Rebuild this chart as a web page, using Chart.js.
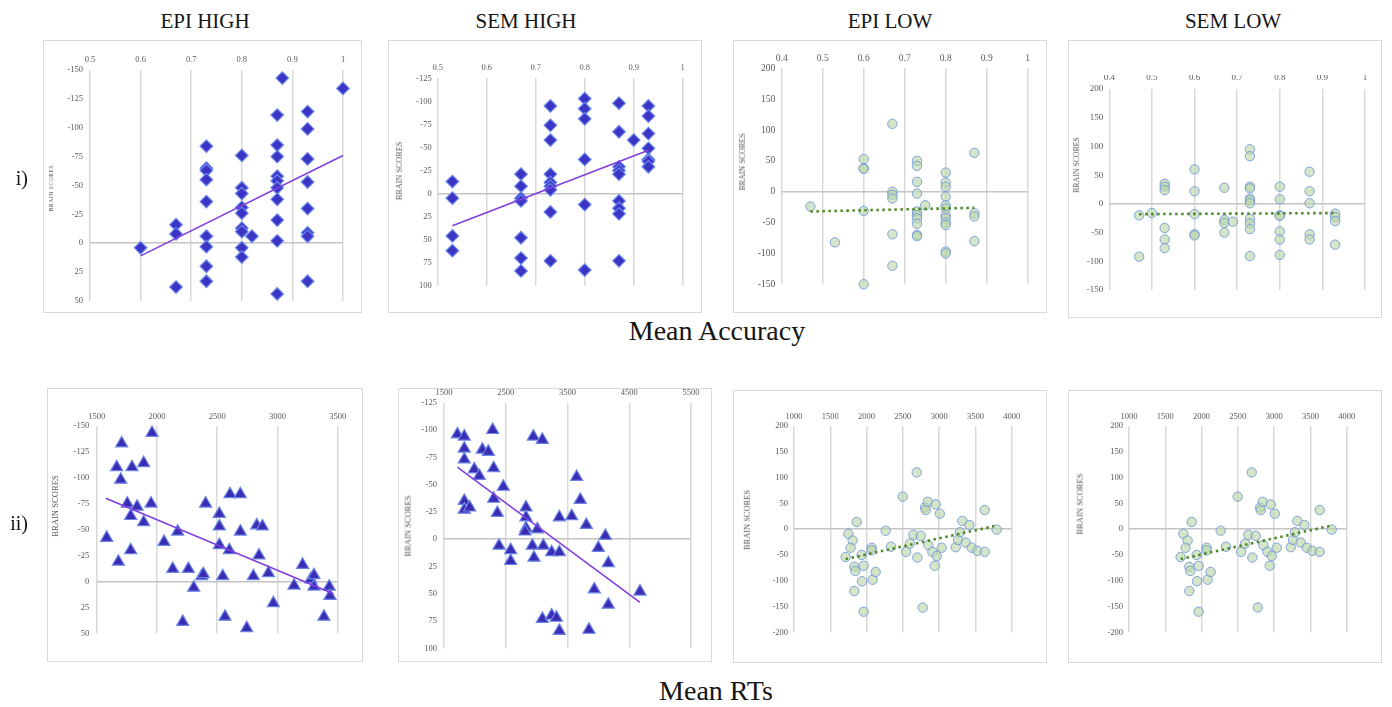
<!DOCTYPE html>
<html>
<head>
<meta charset="utf-8">
<script src="https://cdn.jsdelivr.net/npm/chart.js@4.4.1/dist/chart.umd.min.js"></script>
<style>
  body { margin: 0; background: #fff; width: 1392px; height: 707px; overflow: hidden; position: relative;
         font-family: 'Liberation Serif', 'Times New Roman', serif; }
  .box { position: absolute; border: 1.5px solid #d9d9d9; box-sizing: border-box; }
  canvas { position: absolute; }
  .txt { position: absolute; white-space: nowrap; line-height: 1; color: #151515; }
  .ytitle { position: absolute; white-space: nowrap; line-height: 1; color: #595959;
            transform: translate(-50%, -50%) rotate(-90deg); }
</style>
</head>
<body>
<script>
// ---- data ----
// row i) : mean accuracy vs brain scores
const accEpiHighX = [0.6, 0.67, 0.67, 0.67,
  0.73, 0.73, 0.73, 0.73, 0.73, 0.73, 0.73, 0.73, 0.73,
  0.8, 0.8, 0.8, 0.8, 0.8, 0.8, 0.8, 0.8, 0.8, 0.82,
  0.87, 0.87, 0.87, 0.87, 0.87, 0.87, 0.87, 0.87, 0.87, 0.87, 0.88,
  0.93, 0.93, 0.93, 0.93, 0.93, 0.93, 0.93, 0.93, 1.0];
const accEpiHighY = [4, -16, -8, 38,
  -84, -65, -63, -55, -36, -6, 3, 20, 33,
  -76, -48, -43, -31, -26, -13, -10, 4, 12, -6,
  -111, -85, -75, -58, -54, -48, -38, -20, -2, 44, -143,
  -114, -99, -73, -53, -30, -9, -6, 33, -134];
const accEpiHighTrend = [[0.6, 11], [1.0, -76]];

const accSemHighX = [0.53, 0.53, 0.53, 0.53,
  0.67, 0.67, 0.67, 0.67, 0.67, 0.67, 0.67,
  0.73, 0.73, 0.73, 0.73, 0.73, 0.73, 0.73, 0.73, 0.73,
  0.8, 0.8, 0.8, 0.8, 0.8, 0.8,
  0.87, 0.87, 0.87, 0.87, 0.87, 0.87, 0.87, 0.87, 0.87, 0.9,
  0.93, 0.93, 0.93, 0.93, 0.93, 0.93, 0.93];
const accSemHighY = [-13, 5, 46, 62,
  -21, -8, 5, 8, 48, 70, 84,
  -95, -74, -58, -21, -12, -8, -4, 20, 73,
  -103, -92, -81, -37, 12, 83,
  -98, -67, -29, -25, -21, 8, 16, 22, 73, -58,
  -95, -84, -65, -49, -37, -35, -29];
const accSemHighTrend = [[0.53, 35], [0.93, -47]];

const accEpiLowX = [0.47, 0.53, 0.6, 0.6, 0.6, 0.6, 0.6,
  0.67, 0.67, 0.67, 0.67, 0.67, 0.67,
  0.73, 0.73, 0.73, 0.73, 0.73, 0.73, 0.73, 0.73, 0.73, 0.73, 0.75,
  0.8, 0.8, 0.8, 0.8, 0.8, 0.8, 0.8, 0.8, 0.8, 0.8, 0.8, 0.8,
  0.87, 0.87, 0.87, 0.87];
const accEpiLowY = [-24, -82, 53, 38, 37, -31, -150,
  110, 0, -5, -11, -69, -120,
  50, 42, 16, -3, -32, -38, -43, -52, -70, -72, -22,
  31, 15, 8, -8, -22, -27, -38, -43, -50, -54, -97, -100,
  63, -35, -40, -80];
const accEpiLowTrend = [[0.47, -32], [0.87, -26]];

const accSemLowX = [0.47, 0.47, 0.5, 0.53, 0.53, 0.53, 0.53, 0.53, 0.53,
  0.6, 0.6, 0.6, 0.6, 0.6, 0.67, 0.67, 0.67, 0.67, 0.69,
  0.73, 0.73, 0.73, 0.73, 0.73, 0.73, 0.73, 0.73, 0.73, 0.73, 0.73,
  0.8, 0.8, 0.8, 0.8, 0.8, 0.8, 0.8,
  0.87, 0.87, 0.87, 0.87, 0.87, 0.93, 0.93, 0.93, 0.93];
const accSemLowY = [-20, -92, -16, 35, 30, 24, -42, -62, -77,
  60, 22, -18, -53, -55, 28, -28, -33, -50, -31,
  95, 83, 30, 27, 9, 6, 1, -26, -34, -44, -91,
  30, 8, -20, -21, -48, -62, -89,
  56, 22, 1, -53, -62, -17, -23, -30, -71];
const accSemLowTrend = [[0.47, -18], [0.93, -16]];

// row ii) : mean RTs vs brain scores
const rtEpiHighX = [1583, 1680, 1707, 1666, 1699, 1754, 1782, 1782, 1793, 1835, 1890, 1890,
  1959, 1951, 2059, 2131, 2172, 2214, 2261, 2305, 2371, 2385, 2404, 2518, 2518, 2518,
  2546, 2565, 2606, 2601, 2692, 2692, 2745, 2800, 2828, 2875, 2847, 2925, 2966,
  3138, 3209, 3276, 3303, 3303, 3386, 3430, 3436];
const rtEpiHighY = [-42, -19, -133, -110, -98, -75, -63, -30, -110, -72, -114, -57,
  -143, -75, -38, -12, -48, 39, -12, 6, -5, -7, -75, -65, -53, -35,
  -5, 34, -84, -30, -84, -48, 45, -5, -54, -53, -25, -8, 21,
  4, -16, -2, -6, 5, 34, 5, 14];
const rtEpiHighTrend = [[1575, -80], [3464, 12]];

const rtSemHighX = [1716, 1829, 1829, 1829, 1829, 1829, 1916, 1991, 2072, 2121, 2218, 2288,
  2304, 2304, 2364, 2391, 2461, 2580, 2580, 2828, 2828, 2828, 2812, 2931, 2947, 2958,
  3012, 3093, 3109, 3093, 3244, 3244, 3320, 3368, 3368, 3368, 3568, 3648, 3707, 3805,
  3848, 3934, 3999, 4113, 4161, 4161, 4674];
const rtSemHighY = [-96, -94, -83, -73, -35, -27, -29, -64, -58, -82, -80, -100,
  -65, -37, -24, 6, -48, 10, 20, -29, -20, -10, -7, 6, -94, 17,
  -9, -91, 6, 73, 12, 70, 72, -20, 12, 84, -21, -57, -36, -13,
  83, 46, 8, -3, 22, 60, 48];
const rtSemHighTrend = [[1716, -66], [4674, 58]];

const rtEpiLowX = [1712, 1749, 1808, 1780, 1864, 1831, 1845, 1831, 1932, 1937, 1960, 1960,
  2070, 2070, 2084, 2125, 2263, 2337, 2498, 2544, 2599, 2645, 2691, 2700, 2746, 2806,
  2815, 2843, 2852, 2774, 2907, 2953, 2967, 2939, 3009, 3036, 3229, 3261, 3288, 3320,
  3366, 3417, 3449, 3527, 3628, 3628, 3793];
const rtEpiLowY = [-54, -9, -22, -36, 14, -73, -81, -120, -50, -101, -71, -160,
  -36, -41, -98, -83, -3, -34, 63, -44, -28, -11, 110, -55, -13, 42,
  37, 53, -31, -152, -44, 48, -52, -71, 30, -36, -35, -21, -6, 16,
  -26, 8, -36, -42, 37, -44, -1];
const rtEpiLowTrend = [[1712, -58], [3761, 6]];

// the SEM LOW RT panel in the source shows the same points as EPI LOW
const rtSemLowX = rtEpiLowX;
const rtSemLowY = rtEpiLowY;
const rtSemLowTrend = rtEpiLowTrend;

// ---- styles ----
const markers = {
  diamond:  { pointStyle: 'rectRot',  pointRadius: 6.3, backgroundColor: '#3c34c4', borderColor: '#6a86ea', borderWidth: 1.2 },
  triangle: { pointStyle: 'triangle', pointRadius: 7,   backgroundColor: '#3a2db4', borderColor: '#6b84e4', borderWidth: 1.2 },
  circle:   { pointStyle: 'circle',   pointRadius: 4.7, backgroundColor: 'rgba(190,215,170,0.65)', borderColor: 'rgba(110,150,220,0.85)', borderWidth: 1 }
};
const solidTrend  = { borderColor: '#8040e0', borderWidth: 1.6 };
const dottedTrend = { borderColor: '#4f8a2a', borderWidth: 2.6, borderDash: [2.5, 3.5] };

function addText(text, cls, css) {
  const d = document.createElement('div');
  d.className = cls;
  d.textContent = text;
  Object.assign(d.style, css);
  document.body.appendChild(d);
}

function num(v) { return String(Math.round(v * 100) / 100); }

function panel(p) {
  const [bl, bt, br, bb] = p.box;
  const [pl, pt, pr, pb] = p.plot;
  const div = document.createElement('div');
  div.className = 'box';
  Object.assign(div.style, { left: bl + 'px', top: bt + 'px', width: (br - bl) + 'px', height: (bb - bt) + 'px' });
  document.body.appendChild(div);

  const cv = document.createElement('canvas');
  cv.width = br - bl; cv.height = bb - bt;
  Object.assign(cv.style, { left: bl + 'px', top: bt + 'px' });
  document.body.appendChild(cv);

  const yW = 30, xH = 14;
  const font = { family: "'Liberation Serif', 'Times New Roman', serif", size: p.fs };
  const pts = p.xs.map((x, i) => ({ x: x, y: p.ys[i] }));
  const trend = p.trend.map(t => ({ x: t[0], y: t[1] }));

  new Chart(cv, {
    type: 'scatter',
    data: {
      datasets: [
        Object.assign({ data: trend, showLine: true, pointRadius: 0, fill: false, clip: false }, p.line),
        Object.assign({ data: pts, clip: false }, p.marker)
      ]
    },
    options: {
      responsive: false,
      animation: false,
      events: [],
      plugins: { legend: { display: false }, tooltip: { enabled: false } },
      layout: { padding: { left: pl - bl - yW, top: pt - bt - xH, right: br - pr, bottom: bb - pb } },
      scales: {
        x: {
          type: 'linear', position: 'top', min: p.xr[0], max: p.xr[1],
          ticks: { stepSize: p.xr[2], padding: p.xpad, font: font, color: '#595959', callback: num },
          grid: { color: '#d9d9d9', lineWidth: 1.5, drawTicks: false },
          border: { display: false },
          afterFit: s => { s.height = xH; }
        },
        y: {
          type: 'linear', reverse: p.rev, min: p.yr[0], max: p.yr[1],
          ticks: { stepSize: p.yr[2], padding: p.ypad, font: font, color: '#595959', callback: num },
          grid: { color: c => (c.tick && c.tick.value === 0) ? '#c4c4c4' : 'rgba(0,0,0,0)', lineWidth: 1.5, drawTicks: false },
          border: { display: false },
          afterFit: s => { s.width = yW; }
        }
      }
    }
  });

  const tc = { left: p.title[0] + 'px', top: p.title[1] + 'px', fontSize: p.title[2] + 'px' };
  if (p.title[3]) tc.letterSpacing = p.title[3] + 'px';
  addText('BRAIN SCORES', 'ytitle', tc);
}

const accX = [0.5, 1, 0.1];
const lowAccX = [0.4, 1, 0.1];

panel({ box: [43, 40, 362, 313], plot: [90, 70, 343, 304], xs: accEpiHighX, ys: accEpiHighY, trend: accEpiHighTrend,
  xr: accX, yr: [-150, 50, 25], rev: true, fs: 8.5, xpad: 5, ypad: 7, marker: markers.diamond, line: solidTrend,
  title: [52, 188, 5.5, 0.6] });
panel({ box: [388, 40, 702, 313], plot: [437.7, 78.3, 682.7, 285.7], xs: accSemHighX, ys: accSemHighY, trend: accSemHighTrend,
  xr: accX, yr: [-125, 100, 25], rev: true, fs: 8.5, xpad: 5.5, ypad: 6, marker: markers.diamond, line: solidTrend,
  title: [400, 171, 8.2] });
panel({ box: [733, 40, 1047, 313], plot: [781.7, 68.3, 1027.7, 284.3], xs: accEpiLowX, ys: accEpiLowY, trend: accEpiLowTrend,
  xr: lowAccX, yr: [-150, 200, 50], rev: false, fs: 9.5, xpad: 4, ypad: 6.5, marker: markers.circle, line: dottedTrend,
  title: [743, 162, 8] });
panel({ box: [1068, 40, 1382, 318], plot: [1109.3, 89, 1365, 290], xs: accSemLowX, ys: accSemLowY, trend: accSemLowTrend,
  xr: lowAccX, yr: [-150, 200, 50], rev: false, fs: 9, xpad: 6, ypad: 6, marker: markers.circle, line: dottedTrend,
  title: [1077, 165, 7.8] });

panel({ box: [47, 388, 363, 662], plot: [96.7, 425.7, 337.7, 633.3], xs: rtEpiHighX, ys: rtEpiHighY, trend: rtEpiHighTrend,
  xr: [1500, 3500, 500], yr: [-150, 50, 25], rev: true, fs: 8.5, xpad: 4, ypad: 7.5, marker: markers.triangle, line: solidTrend,
  title: [55, 506, 8.6] });
panel({ box: [398, 388, 712, 662], plot: [444, 402.7, 691, 648.3], xs: rtSemHighX, ys: rtSemHighY, trend: rtSemHighTrend,
  xr: [1500, 5500, 1000], yr: [-125, 100, 25], rev: true, fs: 8.5, xpad: 4.5, ypad: 7, marker: markers.triangle, line: solidTrend,
  title: [408, 526, 8.6] });
panel({ box: [733, 390, 1047, 663], plot: [794, 426, 1011.7, 632.3], xs: rtEpiLowX, ys: rtEpiLowY, trend: rtEpiLowTrend,
  xr: [1000, 4000, 500], yr: [-200, 200, 50], rev: false, fs: 8.5, xpad: 4.5, ypad: 6, marker: markers.circle, line: dottedTrend,
  title: [748, 520, 8.4] });
panel({ box: [1068, 390, 1382, 663], plot: [1129, 426, 1346.7, 632.3], xs: rtSemLowX, ys: rtSemLowY, trend: rtSemLowTrend,
  xr: [1000, 4000, 500], yr: [-200, 200, 50], rev: false, fs: 8.5, xpad: 4.5, ypad: 6, marker: markers.circle, line: dottedTrend,
  title: [1080, 504, 8.6] });

// headings and row labels
const head = { fontSize: '21px', transform: 'translateX(-50%)', top: '10.5px' };
addText('EPI HIGH', 'txt', Object.assign({ left: '205px' }, head));
addText('SEM HIGH', 'txt', Object.assign({ left: '526px' }, head));
addText('EPI LOW', 'txt', Object.assign({ left: '890px' }, head));
addText('SEM LOW', 'txt', Object.assign({ left: '1233px' }, head));
addText('i)', 'txt', { fontSize: '20px', right: (1392 - 28) + 'px', top: '168px' });
addText('ii)', 'txt', { fontSize: '20px', right: (1392 - 28) + 'px', top: '513px' });
addText('Mean Accuracy', 'txt', { fontSize: '28px', left: '717px', top: '317px', transform: 'translateX(-50%)' });
addText('Mean RTs', 'txt', { fontSize: '28px', left: '716px', top: '677px', transform: 'translateX(-50%)' });
</script>
</body>
</html>
